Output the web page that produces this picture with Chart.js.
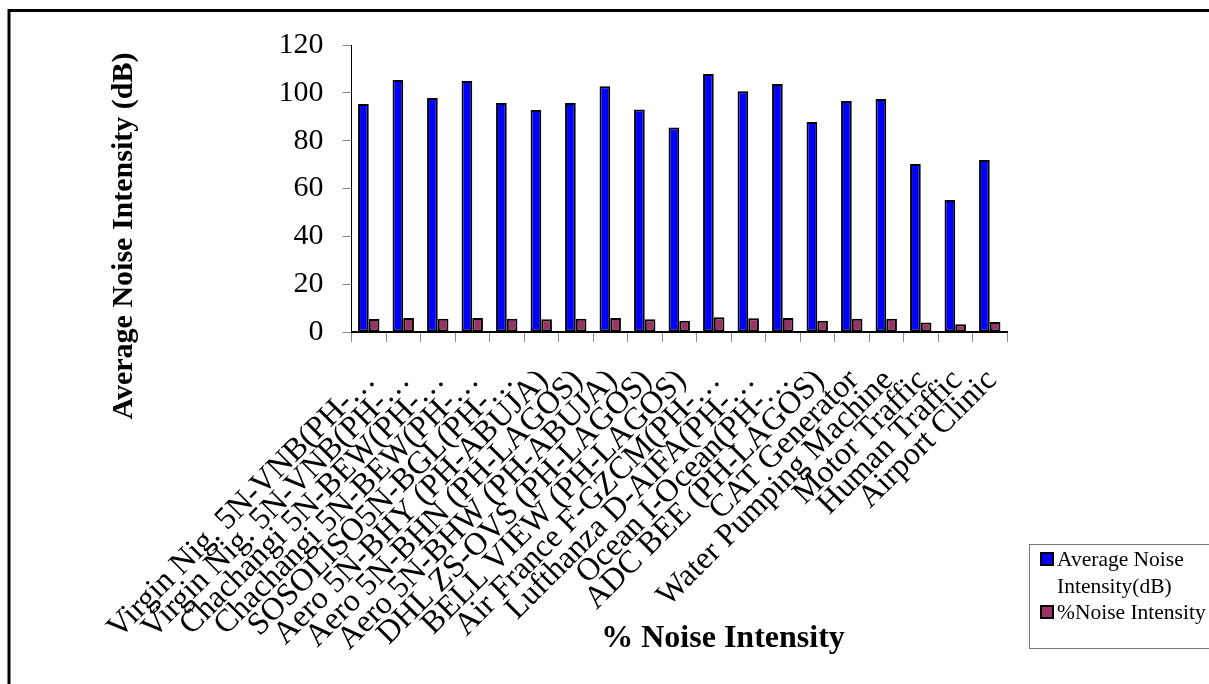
<!DOCTYPE html>
<html>
<head>
<meta charset="utf-8">
<title>Average Noise Intensity</title>
<script src="https://cdn.jsdelivr.net/npm/chart.js@4/dist/chart.umd.min.js"></script>
<style>
  body { margin: 0; background: #fff; }
  #wrap { position: relative; width: 1209px; height: 684px; }
</style>
</head>
<body>
<div id="wrap"><canvas id="myChart" width="1209" height="684"></canvas></div>
<script>
const categories = [
  "Virgin Nig. 5N-VNB(PH-\u2026",
  "Virgin Nig. 5N-VNB(PH-\u2026",
  "Chachangi 5N-BEW(PH-\u2026",
  "Chachangi 5N-BEW(PH-\u2026",
  "SOSOLISO5N-BGL(PH-\u2026",
  "Aero 5N-BHY (PH-ABUJA)",
  "Aero 5N-BHN (PH-LAGOS)",
  "Aero 5N-BHW (PH-ABUJA)",
  "DHL ZS-OVS (PH-LAGOS)",
  "BELL VIEW (PH-LAGOS)",
  "Air France F-GZCM(PH-\u2026",
  "Lufthanza D-AIFA(PH-\u2026",
  "Ocean I-Ocean(PH-\u2026",
  "ADC BEE (PH-LAGOS)",
  "CAT Generator",
  "Water Pumping Machine",
  "Motor Traffic",
  "Human Traffic",
  "Airport Clinic"
];

const avgNoise = [95.3, 105.4, 97.8, 105, 95.7, 92.8, 95.7, 102.8, 93, 85.5,
                  107.9, 100.7, 103.7, 87.8, 96.6, 97.4, 70.2, 55.2, 71.9];
const pctNoise = [5.4, 5.9, 5.5, 5.9, 5.5, 5.3, 5.5, 5.9, 5.3, 4.7,
                  6.2, 5.8, 5.9, 4.7, 5.5, 5.5, 4.0, 3.2, 4.2];

const yTicks = [0, 20, 40, 60, 80, 100, 120];

const seriesNames = ["Average Noise Intensity(dB)", "%Noise Intensity"];
const seriesColors = ["#0000FF", "#993366"];

const xTitle = "% Noise Intensity";
const yTitle = "Average Noise Intensity (dB)";

const serif = "'Liberation Serif', 'Times New Roman', serif";

// frame, axis titles and the boxed legend, drawn on the canvas
const extras = {
  id: "extras",
  beforeDraw(chart) {
    const ctx = chart.ctx;
    ctx.save();
    ctx.fillStyle = "#fff";
    ctx.fillRect(0, 0, chart.width, chart.height);
    ctx.strokeStyle = "#000";
    ctx.lineWidth = 3;
    ctx.beginPath();
    ctx.moveTo(9, 700);
    ctx.lineTo(9, 10.5);
    ctx.lineTo(1220, 10.5);
    ctx.stroke();
    ctx.restore();
  },
  afterDraw(chart) {
    const ctx = chart.ctx;
    ctx.save();
    ctx.fillStyle = "#000";
    ctx.font = "bold 32px " + serif;
    ctx.textAlign = "center";
    ctx.textBaseline = "alphabetic";
    ctx.fillText(xTitle, 723, 647);

    ctx.font = "bold 30px " + serif;
    ctx.translate(132, 236);
    ctx.rotate(-Math.PI / 2);
    ctx.fillText(yTitle, 0, 0);
    ctx.restore();

    // legend
    ctx.save();
    ctx.strokeStyle = "#777";
    ctx.lineWidth = 1;
    ctx.strokeRect(1029.5, 544.5, 200, 104);
    ctx.font = "21.5px " + serif;
    ctx.textAlign = "left";
    ctx.textBaseline = "alphabetic";
    let line = 0;
    chart.data.datasets.forEach((ds) => {
      const words = ds.label.split(" ");
      const lines = [];
      let cur = "";
      words.forEach((w) => {
        const test = cur ? cur + " " + w : w;
        if (ctx.measureText(test).width > 160 && cur) {
          lines.push(cur);
          cur = w;
        } else {
          cur = test;
        }
      });
      lines.push(cur);
      const y0 = 566 + line * 26.5;
      ctx.fillStyle = ds.backgroundColor;
      ctx.fillRect(1041, y0 - 13, 12, 12);
      ctx.strokeStyle = "#000";
      ctx.lineWidth = 2;
      ctx.strokeRect(1041, y0 - 13, 12, 12);
      ctx.fillStyle = "#000";
      lines.forEach((t, i) => {
        ctx.fillText(t, 1057, y0 + i * 26.5);
      });
      line += lines.length;
    });
    ctx.restore();
  }
};

const mychart = document.getElementById("myChart").getContext("2d");

new Chart(mychart, {
  type: "bar",
  data: {
    labels: categories,
    datasets: [
      {
        label: seriesNames[0],
        data: avgNoise,
        backgroundColor: seriesColors[0],
        borderColor: "#000",
        borderWidth: 2,
        borderSkipped: false,
      },
      {
        label: seriesNames[1],
        data: pctNoise,
        backgroundColor: seriesColors[1],
        borderColor: "#000",
        borderWidth: 2,
        borderSkipped: false,
      },
    ],
  },
  options: {
    responsive: false,
    animation: false,
    layout: {
      padding: { left: 0, top: 45, right: 202, bottom: 0 },
    },
    datasets: {
      bar: {
        categoryPercentage: 0.62,
        barPercentage: 1.0,
      },
    },
    plugins: {
      legend: { display: false },
      tooltip: { enabled: false },
    },
    scales: {
      x: {
        afterFit: (scale) => { scale.height = 352; },
        grid: {
          drawOnChartArea: false,
          drawTicks: true,
          tickLength: 10,
          color: "#888",
          offset: true,
        },
        border: { color: "#000", width: 2 },
        ticks: {
          autoSkip: false,
          minRotation: 45,
          maxRotation: 45,
          padding: 20,
          labelOffset: 2,
          color: "#000",
          font: { family: serif, size: 32 },
        },
      },
      y: {
        min: 0,
        max: 120,
        afterFit: (scale) => { scale.width = 351.5; },
        afterBuildTicks: (scale) => {
          scale.ticks = yTicks.map((v) => ({ value: v }));
        },
        grid: {
          drawOnChartArea: false,
          drawTicks: true,
          tickLength: 9,
          color: "#888",
        },
        border: { color: "#000", width: 1 },
        ticks: {
          padding: 19,
          color: "#000",
          font: { family: serif, size: 30 },
        },
      },
    },
  },
  plugins: [extras],
});
</script>
</body>
</html>
